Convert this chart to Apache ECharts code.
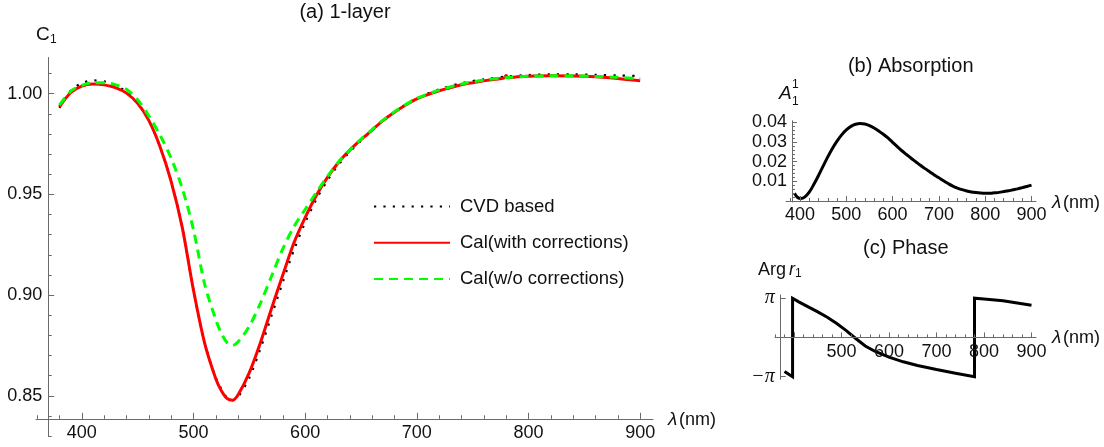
<!DOCTYPE html>
<html>
<head>
<meta charset="utf-8">
<script src="https://cdn.jsdelivr.net/npm/echarts@6/dist/echarts.min.js"></script>
<style>
  html, body { margin: 0; padding: 0; background: #fff; }
  #chart { width: 1104px; height: 447px; }
</style>
</head>
<body>
<div id="chart"></div>
<script>
// (a) reflectance coefficient C1 of the 1-layer film versus wavelength
const wlCvd = [380,390,400,410,420,430,440,450,460,470,480,490,500,510,520,530,535,540,550,560,570,580,590,600,610,620,630,640,650,660,670,680,690,700,720,740,760,780,800,820,840,860,880,900];
const cvdBased = [0.9930,1.0015,1.0052,1.0066,1.0062,1.0040,1.0010,0.9955,0.9868,0.9738,0.9565,0.9335,0.9025,0.8765,0.8590,0.8490,0.8478,0.8495,0.8590,0.8735,0.8900,0.9065,0.9225,0.9360,0.9475,0.9570,0.9648,0.9712,0.9767,0.9818,0.9868,0.9910,0.9946,0.9977,1.0022,1.0052,1.0072,1.0085,1.0093,1.0096,1.0096,1.0094,1.0091,1.0088];

const wlWith = [380,390,400,410,420,430,440,450,460,470,480,490,500,510,520,525,530,535,540,550,560,570,580,590,600,610,620,630,640,650,660,670,680,690,700,710,720,730,740,750,760,770,778,780,782,790,800,820,840,860,880,900];
const calWith = [0.9935,1.0005,1.0038,1.0048,1.0044,1.0030,1.0003,0.9952,0.9868,0.9738,0.9565,0.9335,0.9025,0.8762,0.8585,0.8525,0.8487,0.8478,0.8505,0.8615,0.8765,0.8935,0.9100,0.9260,0.9385,0.9495,0.9585,0.9660,0.9720,0.9772,0.9820,0.9868,0.9908,0.9944,0.9975,0.9996,1.0015,1.0030,1.0045,1.0055,1.0064,1.0072,1.0078,1.0090,1.0080,1.0084,1.0087,1.0089,1.0088,1.0084,1.0076,1.0064];

const wlWithout = [380,390,400,410,420,430,440,450,460,470,480,490,500,510,520,525,530,535,540,550,560,570,580,590,600,610,620,630,640,650,660,670,680,690,700,720,740,760,780,800,820,840,860,880,900];
const calWithout = [0.9943,1.0012,1.0042,1.0055,1.0055,1.0045,1.0022,0.9970,0.9890,0.9795,0.9680,0.9530,0.9325,0.9055,0.8878,0.8810,0.8765,0.8750,0.8768,0.8845,0.8960,0.9095,0.9230,0.9340,0.9425,0.9510,0.9590,0.9662,0.9722,0.9774,0.9822,0.9870,0.9910,0.9946,0.9977,1.0018,1.0048,1.0068,1.0080,1.0087,1.0089,1.0089,1.0086,1.0082,1.0074];

// (b) absorption A_1^1
const wlAbs = [388,395,402,410,420,430,440,450,460,470,480,490,500,510,520,530,540,550,560,570,580,590,600,610,620,630,640,650,660,670,680,690,700,710,720,730,740,750,760,770,780,790,800,810,820,830,840,850,860,870,880,890,900];
const absA = [0.0040,0.0018,0.0013,0.0020,0.0045,0.0085,0.0130,0.0178,0.0225,0.0268,0.0305,0.0337,0.0362,0.0380,0.0391,0.0395,0.0392,0.0384,0.0372,0.0357,0.0340,0.0321,0.0299,0.0277,0.0256,0.0237,0.0218,0.0200,0.0182,0.0165,0.0149,0.0133,0.0118,0.0103,0.0089,0.0076,0.0066,0.0058,0.0051,0.0046,0.0043,0.0041,0.0040,0.0040,0.0042,0.0044,0.0048,0.0052,0.0057,0.0062,0.0068,0.0074,0.0081];

// (c) phase Arg r1 (wraps at ±π)
const wlPhase = [380,397,397,410,430,450,470,490,510,530,550,570,600,630,660,700,740,780,780,800,840,870,900];
const argR = [-2.72,-3.14,3.14,2.85,2.45,2.05,1.62,1.12,0.55,-0.08,-0.68,-1.10,-1.58,-1.95,-2.24,-2.57,-2.86,-3.14,3.14,3.08,2.94,2.76,2.58];

// tick labels
const mainXTicks = [400,500,600,700,800,900];
const mainYTicks = [0.85,0.90,0.95,1.00];
const absXTicks = [400,500,600,700,800,900];
const absYTicks = [0.01,0.02,0.03,0.04];
const phaseXTicks = [400,500,600,700,800,900];
const phaseXLabels = [500,600,700,800,900];
const phaseYTicks = [-Math.PI, Math.PI];

const seriesNames = ['CVD based', 'Cal(with corrections)', 'Cal(w/o corrections)'];

const FONT = 'Liberation Sans, Arial, sans-serif';
const AXIS_COLOR = '#6a6a6a';
const TEXT_COLOR = '#111';

// evenly spaced minor tick positions
function steps(from, to, step, digits) {
  const out = [];
  const n = Math.round((to - from) / step);
  for (let i = 0; i <= n; i++) out.push(+(from + i * step).toFixed(digits));
  return out;
}
function pairs(xs, ys) { return xs.map((x, i) => [x, ys[i]]); }

function valueAxis(o) {
  return {
    type: 'value', gridIndex: o.grid, min: o.min, max: o.max,
    position: o.position, offset: o.offset,
    axisLine: { show: !!o.line, onZero: false, lineStyle: { color: AXIS_COLOR, width: 1 } },
    axisTick: { show: true, inside: true, length: o.len, customValues: o.ticks,
                lineStyle: { color: AXIS_COLOR, width: 1 } },
    axisLabel: o.labels ? {
      show: true, customValues: o.labels, formatter: o.fmt, margin: o.margin,
      color: TEXT_COLOR, fontSize: o.fontSize || 18, fontFamily: o.family || FONT,
      fontStyle: o.fontStyle || 'normal'
    } : { show: false },
    splitLine: { show: false },
    minorTick: { show: false },
    z: 5
  };
}

const xAxes = [
  // main
  valueAxis({ grid: 0, min: 359, max: 911.5, position: 'bottom', offset: -17.7, line: true,
              len: 6, ticks: mainXTicks, labels: mainXTicks, fmt: v => String(v), margin: 5 }),
  valueAxis({ grid: 0, min: 359, max: 911.5, position: 'bottom', offset: -17.7,
              len: 3.5, ticks: steps(360, 900, 20, 0) }),
  // absorption
  valueAxis({ grid: 1, min: 369.8, max: 909.7, position: 'bottom', offset: -1, line: true,
              len: 5, ticks: absXTicks, labels: absXTicks, fmt: v => String(v), margin: 5 }),
  valueAxis({ grid: 1, min: 369.8, max: 909.7, position: 'bottom', offset: -1,
              len: 3, ticks: steps(380, 900, 20, 0) }),
  // phase
  valueAxis({ grid: 2, min: 360, max: 909.5, position: 'bottom', offset: -41.9, line: true,
              len: 5, ticks: phaseXTicks, labels: phaseXLabels, fmt: v => String(v), margin: 6 }),
  valueAxis({ grid: 2, min: 360, max: 909.5, position: 'bottom', offset: -41.9,
              len: 3, ticks: steps(360, 900, 20, 0) })
];

const yAxes = [
  valueAxis({ grid: 0, min: 0.8298, max: 1.018, position: 'left', offset: -12.2, line: true,
              len: 6, ticks: mainYTicks, labels: mainYTicks, fmt: v => v.toFixed(2), margin: 6 }),
  valueAxis({ grid: 0, min: 0.8298, max: 1.018, position: 'left', offset: -12.2,
              len: 3.5, ticks: steps(0.83, 1.01, 0.01, 2) }),
  valueAxis({ grid: 1, min: -0.0005, max: 0.0409, position: 'left', offset: -6, line: true,
              len: 5, ticks: absYTicks, labels: absYTicks, fmt: v => v.toFixed(2), margin: 5 }),
  valueAxis({ grid: 1, min: -0.0005, max: 0.0409, position: 'left', offset: -6,
              len: 3, ticks: steps(0.002, 0.040, 0.002, 3) }),
  valueAxis({ grid: 2, min: -3.35, max: 3.40, position: 'left', offset: -5.7, line: true,
              len: 5, ticks: phaseYTicks, labels: phaseYTicks,
              fmt: v => (v > 0 ? 'π' : '−π'), margin: 6, fontSize: 20, fontStyle: 'italic',
              family: 'Liberation Serif, Times New Roman, serif' }),
  valueAxis({ grid: 2, min: -3.35, max: 3.40, position: 'left', offset: -5.7,
              len: 3, ticks: [] })
];

function txt(text, x, y, size, align) {
  return {
    type: 'text', x: x, y: y, z: 10,
    style: {
      text: text, fill: TEXT_COLOR, font: size + 'px ' + FONT,
      textAlign: align || 'left', textVerticalAlign: 'middle',
      align: align || 'left', verticalAlign: 'middle'
    }
  };
}
function italic(text, x, y, size, family) {
  return {
    type: 'text', x: x, y: y, z: 10,
    style: {
      text: text, fill: TEXT_COLOR, font: 'italic ' + size + 'px ' + (family || FONT),
      textAlign: 'left', textVerticalAlign: 'middle', align: 'left', verticalAlign: 'middle'
    }
  };
}

const graphics = [
  txt('(a) 1-layer', 345, 12, 20, 'center'),
  txt('C', 36, 35, 19),
  txt('1', 50, 40, 12),
  italic('λ', 668, 420, 19),
  txt('(nm)', 679, 420, 18),

  txt('(b) Absorption', 910.7, 66.7, 20, 'center'),
  italic('A', 779, 94, 19),
  txt('1', 792, 85, 12),
  txt('1', 792, 101.5, 12),
  italic('λ', 1052, 203, 19),
  txt('(nm)', 1063, 203, 18),

  txt('(c) Phase', 905.8, 248, 20, 'center'),
  txt('Arg', 758, 270, 18),
  italic('r', 789, 270, 18),
  txt('1', 795, 274, 12),
  italic('λ', 1052, 338, 19),
  txt('(nm)', 1063, 338, 18)
];

const chart = echarts.init(document.getElementById('chart'), null, { renderer: 'canvas' });
chart.setOption({
  animation: false,
  backgroundColor: '#fff',
  grid: [
    { left: 36, top: 57.5, width: 617, height: 379 },
    { left: 786, top: 120.7, width: 250, height: 81.3 },
    { left: 775, top: 295, width: 261, height: 84.3 }
  ],
  xAxis: xAxes,
  yAxis: yAxes,
  legend: {
    data: seriesNames, orient: 'vertical', left: 373, top: 197, padding: 0,
    itemWidth: 76, itemHeight: 0.1, itemGap: 17.3, selectedMode: false,
    textStyle: { fontSize: 18.5, fontFamily: FONT, color: TEXT_COLOR, padding: [0, 0, 0, 5], lineHeight: 19 }
  },
  graphic: graphics,
  series: [
    {
      name: seriesNames[0], type: 'line', xAxisIndex: 0, yAxisIndex: 0,
      data: pairs(wlCvd, cvdBased), symbol: 'none', smooth: 0.3,
      lineStyle: { color: '#000', width: 2.2, type: [2.2, 7.2], cap: 'butt' },
      itemStyle: { color: '#000' }, z: 2
    },
    {
      name: seriesNames[1], type: 'line', xAxisIndex: 0, yAxisIndex: 0,
      data: pairs(wlWith, calWith), symbol: 'none', smooth: 0.3,
      lineStyle: { color: '#ff0000', width: 3 },
      itemStyle: { color: '#ff0000' }, z: 3
    },
    {
      name: seriesNames[2], type: 'line', xAxisIndex: 0, yAxisIndex: 0,
      data: pairs(wlWithout, calWithout), symbol: 'none', smooth: 0.3,
      lineStyle: { color: '#00ff00', width: 3, type: [9, 6], cap: 'butt' },
      itemStyle: { color: '#00ff00' }, z: 4
    },
    {
      name: 'A11', type: 'line', xAxisIndex: 2, yAxisIndex: 2,
      data: pairs(wlAbs, absA), symbol: 'none', smooth: 0.3,
      lineStyle: { color: '#000', width: 3 }, z: 3
    },
    {
      name: 'argr1', type: 'line', xAxisIndex: 4, yAxisIndex: 4,
      data: pairs(wlPhase, argR), symbol: 'none', smooth: false,
      lineStyle: { color: '#000', width: 3, join: 'miter' }, z: 3
    }
  ]
});
</script>
</body>
</html>
